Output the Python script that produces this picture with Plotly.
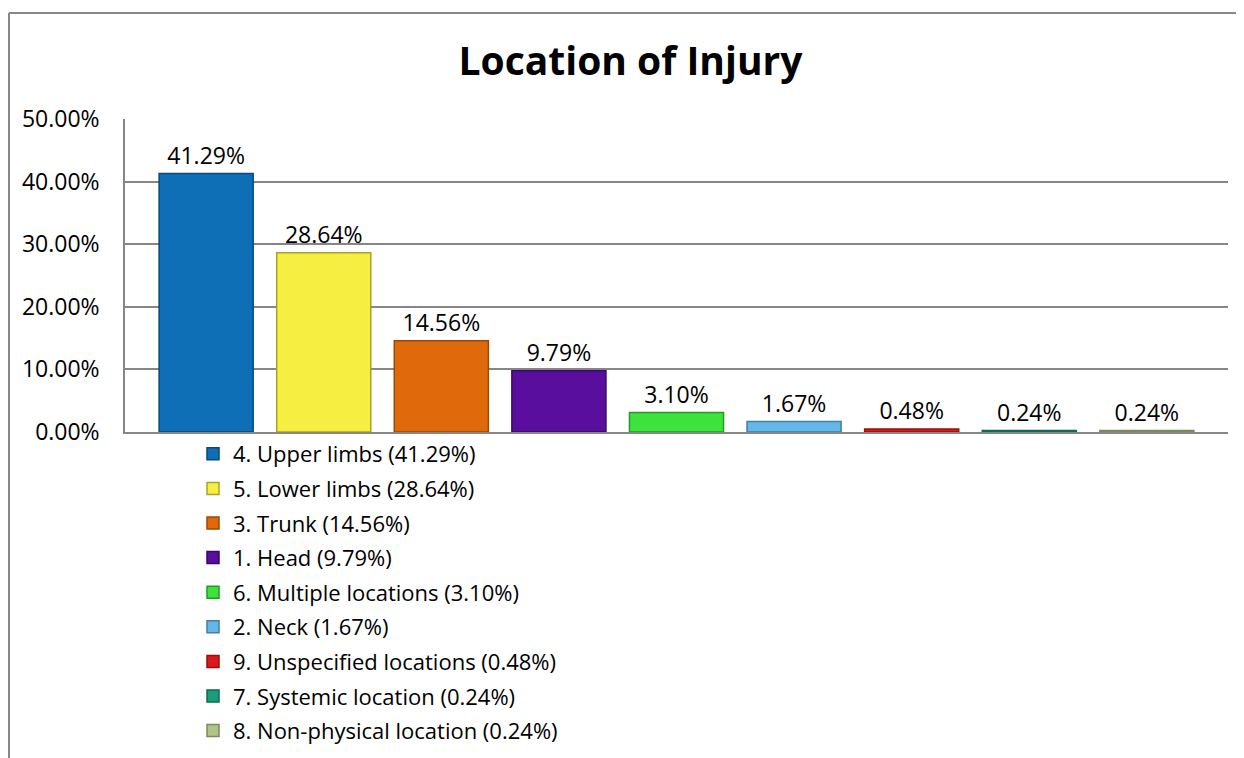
import plotly.graph_objects as go

categories = ["4. Upper limbs", "5. Lower limbs", "3. Trunk", "1. Head",
              "6. Multiple locations", "2. Neck", "9. Unspecified locations",
              "7. Systemic location", "8. Non-physical location"]
values = [0.4129, 0.2864, 0.1456, 0.0979, 0.0310, 0.0167, 0.0048, 0.0024, 0.0024]
fill_colors = ["#0E6EB6", "#F6EE40", "#E06A0B", "#5A0E9E", "#3DE23D",
               "#66B7E7", "#DA1A1A", "#1B9C7B", "#B0C48A"]
edge_colors = ["#07497C", "#A8A22A", "#9A4806", "#3A0868", "#259A25",
               "#3F7FA8", "#951010", "#106A52", "#7A8A5E"]
y_ticks = [0, 0.1, 0.2, 0.3, 0.4, 0.5]

# page body has an 8px margin; work in figure coordinates
OFF = 8
W, H = 1244 - OFF, 758 - OFF
L, R, T, B = 125 - OFF, 1228 - OFF, 119 - OFF, 432 - OFF

FONT = "Open Sans"

fig = go.Figure()
for i, (cat, v) in enumerate(zip(categories, values)):
    fig.add_trace(go.Bar(
        x=[cat], y=[v],
        name=f"{cat} ({v*100:.2f}%)",
        legendgroup=f"g{i}",
        marker=dict(color=fill_colors[i], line=dict(color=edge_colors[i], width=1.5)),
        texttemplate="%{y:.2%}", textposition="outside",
        textfont=dict(family=FONT, size=23, color="#000000"),
        cliponaxis=False,
    ))

def px2paper_x(px):
    return (px - OFF - L) / (R - L)

def px2paper_y(py):
    return (B - (py - OFF)) / (B - T)

fig.update_layout(
    width=W, height=H,
    margin=dict(l=L, r=W - R, t=T, b=H - B, autoexpand=False),
    paper_bgcolor="white", plot_bgcolor="white",
    barmode="overlay", bargap=0.2,
    showlegend=True,
    font=dict(family=FONT, color="#000000"),
    title=dict(text="<b>Location of Injury</b>", x=(630.5 - OFF) / W, xref="container",
               xanchor="center", y=1 - (61.5 - OFF) / H, yref="container", yanchor="middle",
               font=dict(family=FONT, size=39, color="#000000")),
    legend=dict(x=px2paper_x(193), xanchor="left", y=px2paper_y(433), yanchor="top",
                orientation="v", font=dict(family=FONT, size=22, color="#000000"),
                tracegroupgap=3, bgcolor="rgba(0,0,0,0)", traceorder="grouped"),
    xaxis=dict(type="category", range=[-0.69, 8.69], showticklabels=False,
               showgrid=False, showline=True, linecolor="#868686", linewidth=1.6,
               ticks="", zeroline=False, fixedrange=True),
    yaxis=dict(range=[0, 0.5], tickvals=y_ticks, tickformat=".2%",
               showgrid=True, gridcolor="#868686", gridwidth=1.5,
               showline=True, linecolor="#868686", linewidth=1.5, ticks="",
               zeroline=False, tickfont=dict(family=FONT, size=23, color="#000000"),
               ticklabelstandoff=19),
    shapes=[
        dict(type="line", xref="paper", yref="paper",
             x0=px2paper_x(9), x1=px2paper_x(9), y0=px2paper_y(13), y1=px2paper_y(770),
             line=dict(color="#878787", width=2)),
        dict(type="line", xref="paper", yref="paper",
             x0=px2paper_x(9), x1=px2paper_x(1250), y0=px2paper_y(13), y1=px2paper_y(13),
             line=dict(color="#878787", width=2)),
    ],
)

fig.write_html("out.html")
